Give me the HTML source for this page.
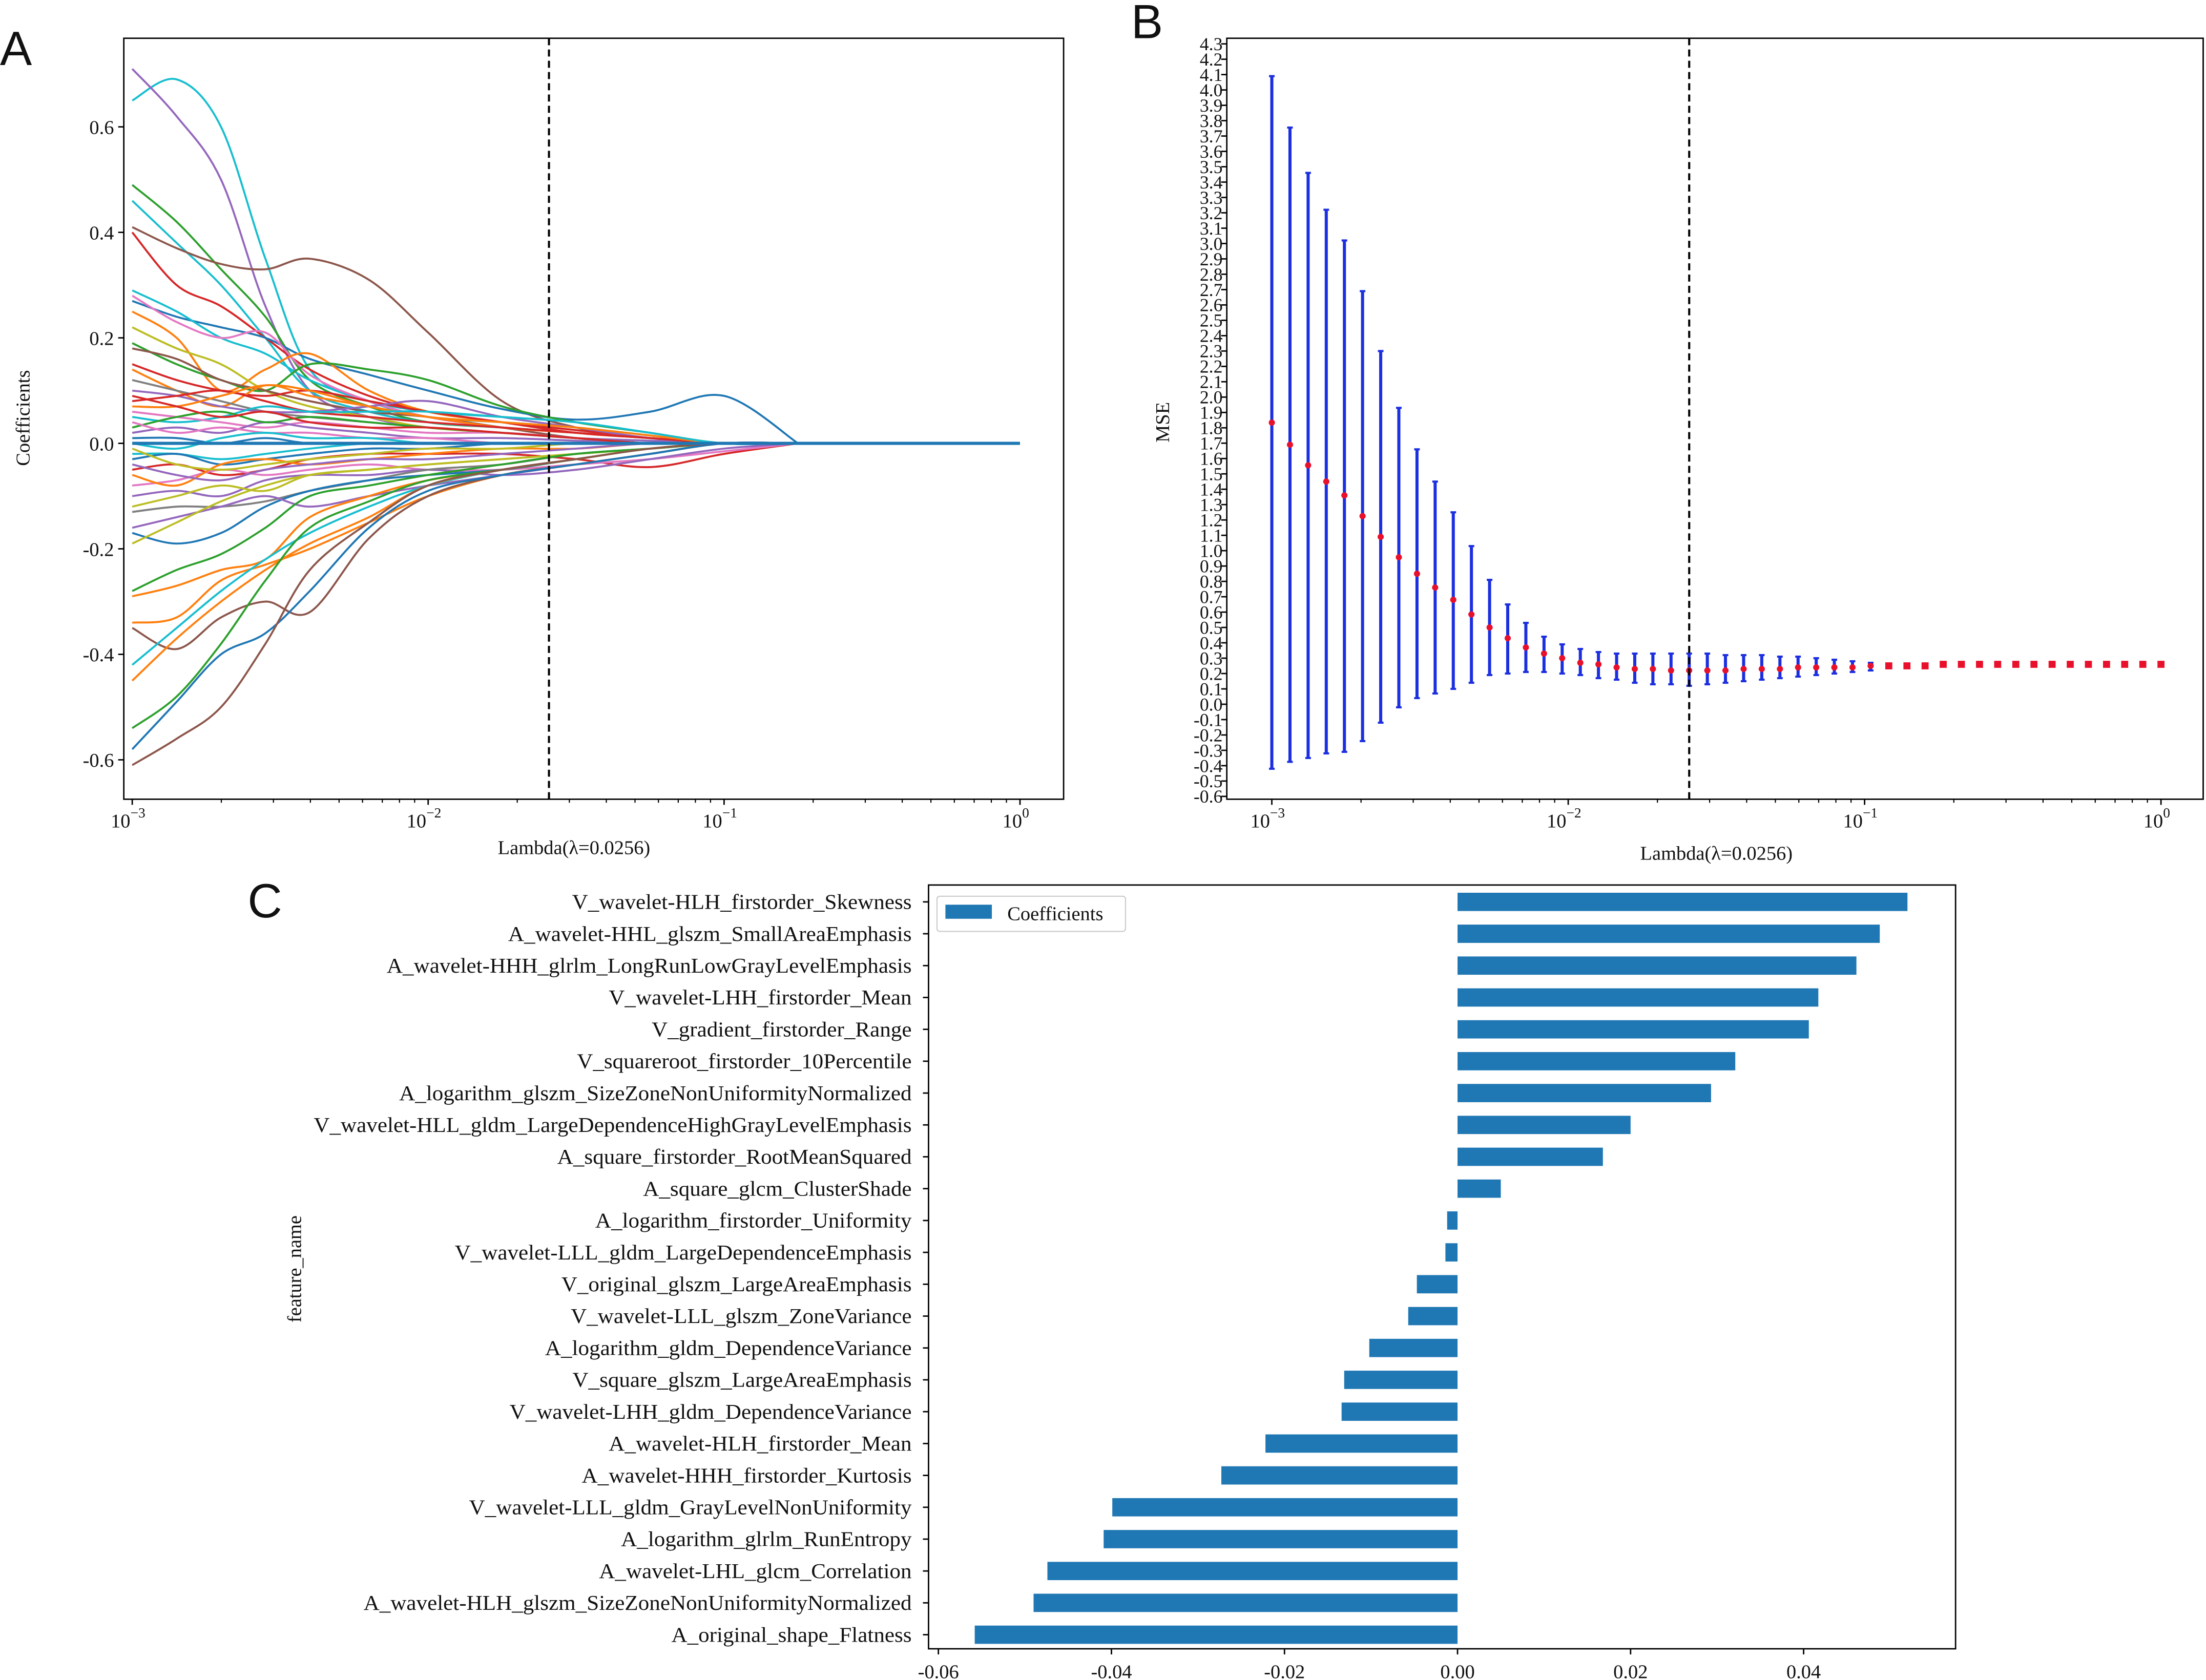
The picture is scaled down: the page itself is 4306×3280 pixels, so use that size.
<!DOCTYPE html>
<html><head><meta charset="utf-8"><style>
html,body{margin:0;padding:0;background:#fff}
svg{display:block}
text{font-family:"Liberation Serif",serif;fill:#111}
</style></head><body>
<svg id="fig" xmlns="http://www.w3.org/2000/svg" width="4306" height="3280" viewBox="0 0 1568 1194">
<rect width="1568" height="1194" fill="#fff"/>
<text x="0" y="46" style="font-family:'Liberation Sans',sans-serif;font-size:34px">A</text>
<text x="804" y="27" style="font-family:'Liberation Sans',sans-serif;font-size:34px">B</text>
<text x="176" y="652" style="font-family:'Liberation Sans',sans-serif;font-size:34px">C</text>
<g id="pa"></g>
<g id="pb"></g>
<g id="pc"></g>
</svg>
<script>
// ---------- Panel A data ----------
const aLogLambda=[-3,-2.85,-2.7,-2.55,-2.4,-2.2,-2,-1.75,-1.5,-1.25,-1,-0.75,0];
const aColors=["#17becf","#9467bd","#2ca02c","#17becf","#8c564b","#d62728","#1f77b4","#17becf","#e377c2","#ff7f0e","#bcbd22","#2ca02c","#8c564b","#d62728","#ff7f0e","#7f7f7f","#9467bd","#d62728","#ff7f0e","#17becf","#e377c2","#9467bd","#1f77b4","#17becf","#1f77b4","#d62728","#e377c2","#9467bd","#bcbd22","#7f7f7f","#1f77b4","#9467bd","#bcbd22","#2ca02c","#ff7f0e","#ff7f0e","#8c564b","#17becf","#ff7f0e","#2ca02c","#1f77b4","#8c564b","#2ca02c","#ff7f0e","#d62728","#e377c2","#bcbd22","#17becf","#9467bd","#1f77b4"];
const aSeries=[
[0.65,0.69,0.60,0.35,0.14,0.08,0.05,0.04,0.03,0.015,0,0,0],
[0.71,0.62,0.50,0.26,0.10,0.05,0.03,0.02,0.01,0.005,0,0,0],
[0.49,0.42,0.33,0.24,0.12,0.07,0.04,0.03,0.02,0.01,0,0,0],
[0.46,0.38,0.30,0.20,0.10,0.06,0.04,0.03,0.02,0.01,0,0,0],
[0.41,0.37,0.34,0.33,0.35,0.31,0.21,0.08,0.03,0.01,0,0,0],
[0.40,0.30,0.26,0.20,0.14,0.09,0.06,0.04,0.025,0.01,0,0,0],
[0.27,0.24,0.22,0.20,0.16,0.13,0.10,0.065,0.045,0.06,0.09,0,0],
[0.29,0.25,0.20,0.17,0.12,0.08,0.06,0.05,0.04,0.02,0,0,0],
[0.28,0.23,0.20,0.21,0.13,0.08,0.05,0.03,0.02,0.01,0,0,0],
[0.25,0.20,0.10,0.14,0.17,0.10,0.06,0.04,0.02,0.01,0,0,0],
[0.22,0.18,0.15,0.10,0.07,0.05,0.03,0.02,0.01,0,0,0,0],
[0.19,0.15,0.12,0.10,0.15,0.14,0.12,0.07,0.04,0.02,0,0,0],
[0.18,0.16,0.12,0.10,0.08,0.06,0.05,0.03,0.01,0,0,0,0],
[0.15,0.12,0.10,0.09,0.10,0.08,0.06,0.04,0.02,0.01,0,0,0],
[0.14,0.10,0.07,0.11,0.09,0.07,0.05,0.03,0.02,0.01,0,0,0],
[0.12,0.10,0.08,0.06,0.05,0.04,0.03,0.02,0.01,0,0,0,0],
[0.10,0.09,0.07,0.06,0.06,0.07,0.08,0.05,0.03,0.01,0,0,0],
[0.08,0.09,0.10,0.08,0.06,0.05,0.04,0.03,0.02,0.01,0,0,0],
[0.07,0.07,0.09,0.11,0.10,0.07,0.05,0.04,0.03,0.015,0,0,0],
[0.05,0.04,0.05,0.07,0.06,0.06,0.06,0.05,0.04,0.02,0,0,0],
[0.06,0.05,0.04,0.03,0.04,0.03,0.02,0.02,0.01,0,0,0,0],
[0.02,0.03,0.02,0.04,0.03,0.02,0.01,0.01,0.005,0,0,0,0],
[0.01,0.01,0.0,0.01,0.0,0.0,0.0,0,0,0,0,0,0],
[-0.02,-0.02,-0.03,-0.02,-0.01,0,0,0,0,0,0,0,0],
[-0.03,-0.02,-0.04,-0.03,-0.02,-0.01,-0.01,0,0,0,0,0,0],
[-0.05,-0.04,-0.06,-0.05,-0.03,-0.02,-0.02,-0.02,-0.03,-0.045,-0.02,0,0],
[-0.08,-0.07,-0.05,-0.06,-0.05,-0.04,-0.05,-0.05,-0.04,-0.03,-0.015,0,0],
[-0.10,-0.09,-0.10,-0.07,-0.06,-0.06,-0.05,-0.06,-0.05,-0.03,-0.01,0,0],
[-0.12,-0.10,-0.08,-0.09,-0.06,-0.05,-0.04,-0.03,-0.02,-0.01,0,0,0],
[-0.13,-0.12,-0.12,-0.11,-0.09,-0.07,-0.05,-0.04,-0.02,-0.01,0,0,0],
[-0.17,-0.19,-0.17,-0.12,-0.09,-0.07,-0.06,-0.05,-0.03,-0.01,0,0,0],
[-0.16,-0.14,-0.12,-0.10,-0.12,-0.10,-0.08,-0.06,-0.04,-0.02,0,0,0],
[-0.19,-0.15,-0.11,-0.08,-0.06,-0.05,-0.04,-0.03,-0.02,-0.01,0,0,0],
[-0.28,-0.24,-0.21,-0.16,-0.10,-0.08,-0.06,-0.04,-0.02,-0.01,0,0,0],
[-0.29,-0.27,-0.24,-0.22,-0.14,-0.10,-0.07,-0.05,-0.03,-0.01,0,0,0],
[-0.34,-0.33,-0.26,-0.23,-0.20,-0.15,-0.10,-0.06,-0.04,-0.02,0,0,0],
[-0.35,-0.39,-0.33,-0.30,-0.32,-0.18,-0.10,-0.06,-0.04,-0.02,0,0,0],
[-0.42,-0.35,-0.28,-0.22,-0.17,-0.12,-0.08,-0.05,-0.03,-0.01,0,0,0],
[-0.45,-0.37,-0.30,-0.24,-0.19,-0.14,-0.08,-0.05,-0.03,-0.01,0,0,0],
[-0.54,-0.48,-0.38,-0.26,-0.16,-0.11,-0.07,-0.05,-0.03,-0.01,0,0,0],
[-0.58,-0.49,-0.40,-0.36,-0.28,-0.16,-0.09,-0.06,-0.04,-0.02,0,0,0],
[-0.61,-0.56,-0.50,-0.38,-0.24,-0.15,-0.08,-0.05,-0.03,-0.01,0,0,0],
[0.03,0.05,0.06,0.04,0.05,0.04,0.03,0.02,0.01,0,0,0,0],
[-0.06,-0.08,-0.04,-0.03,-0.04,-0.03,-0.02,-0.01,-0.01,0,0,0,0],
[0.09,0.07,0.05,0.06,0.04,0.03,0.03,0.02,0.01,0,0,0,0],
[0.04,0.02,0.03,0.02,0.02,0.01,0.01,0,0,0,0,0,0],
[-0.01,-0.04,-0.05,-0.04,-0.03,-0.02,-0.01,-0.01,0,0,0,0,0],
[0.0,-0.01,0.01,0.02,0.01,0.01,0,0,0,0,0,0,0],
[-0.04,-0.06,-0.07,-0.05,-0.04,-0.03,-0.03,-0.02,-0.01,0,0,0,0],
[0,0,0,0,0,0,0,0,0,0,0,0,0]
];
const aYTicks=[0.6,0.4,0.2,0.0,-0.2,-0.4,-0.6];
const aYTickLabels=["0.6","0.4","0.2","0.0","-0.2","-0.4","-0.6"];
const lambdaOpt=0.0256;

// ---------- Panel B data ----------
const bMean=[1.834,1.69,1.556,1.45,1.36,1.225,1.09,0.957,0.85,0.76,0.68,0.585,0.50,0.43,0.37,0.33,0.30,0.27,0.26,0.24,0.23,0.23,0.22,0.22,0.22,0.22,0.23,0.23,0.23,0.24,0.24,0.24,0.24,0.25,0.25,0.25,0.25,0.26,0.26,0.26,0.26,0.26,0.26,0.26,0.26,0.26,0.26,0.26,0.26,0.26];
const bUpper=[4.09,3.755,3.46,3.22,3.02,2.69,2.30,1.93,1.66,1.45,1.25,1.03,0.81,0.65,0.53,0.44,0.39,0.36,0.34,0.33,0.33,0.33,0.33,0.33,0.33,0.32,0.32,0.32,0.31,0.31,0.30,0.29,0.28,0.27];
const bLower=[-0.42,-0.375,-0.35,-0.32,-0.31,-0.24,-0.12,-0.02,0.04,0.07,0.10,0.14,0.19,0.20,0.21,0.21,0.20,0.19,0.17,0.16,0.14,0.13,0.13,0.12,0.13,0.14,0.15,0.16,0.17,0.18,0.19,0.20,0.21,0.22];

// ---------- Panel C data ----------
const cFeatures=["V_wavelet-HLH_firstorder_Skewness","A_wavelet-HHL_glszm_SmallAreaEmphasis","A_wavelet-HHH_glrlm_LongRunLowGrayLevelEmphasis","V_wavelet-LHH_firstorder_Mean","V_gradient_firstorder_Range","V_squareroot_firstorder_10Percentile","A_logarithm_glszm_SizeZoneNonUniformityNormalized","V_wavelet-HLL_gldm_LargeDependenceHighGrayLevelEmphasis","A_square_firstorder_RootMeanSquared","A_square_glcm_ClusterShade","A_logarithm_firstorder_Uniformity","V_wavelet-LLL_gldm_LargeDependenceEmphasis","V_original_glszm_LargeAreaEmphasis","V_wavelet-LLL_glszm_ZoneVariance","A_logarithm_gldm_DependenceVariance","V_square_glszm_LargeAreaEmphasis","V_wavelet-LHH_gldm_DependenceVariance","A_wavelet-HLH_firstorder_Mean","A_wavelet-HHH_firstorder_Kurtosis","V_wavelet-LLL_gldm_GrayLevelNonUniformity","A_logarithm_glrlm_RunEntropy","A_wavelet-LHL_glcm_Correlation","A_wavelet-HLH_glszm_SizeZoneNonUniformityNormalized","A_original_shape_Flatness"];
const cValues=[0.052,0.0488,0.0461,0.0417,0.0406,0.0321,0.0293,0.0200,0.0168,0.0050,-0.0012,-0.0014,-0.0047,-0.0057,-0.0102,-0.0131,-0.0134,-0.0222,-0.0273,-0.0399,-0.0409,-0.0474,-0.0490,-0.0558];
const cXTicks=[-0.06,-0.04,-0.02,0.00,0.02,0.04];
const cXTickLabels=["-0.06","-0.04","-0.02","0.00","0.02","0.04"];

const NS="http://www.w3.org/2000/svg";
function mk(parent,tag,attrs,txt){const e=document.createElementNS(NS,tag);for(const k in attrs)e.setAttribute(k,attrs[k]);if(txt!==undefined)e.textContent=txt;parent.appendChild(e);return e;}
function smooth(pts){let d="M"+pts[0][0].toFixed(2)+","+pts[0][1].toFixed(2);for(let i=0;i<pts.length-1;i++){const p0=pts[i-1]||pts[i],p1=pts[i],p2=pts[i+1],p3=pts[i+2]||p2;const c1=[p1[0]+(p2[0]-p0[0])/6,p1[1]+(p2[1]-p0[1])/6],c2=[p2[0]-(p3[0]-p1[0])/6,p2[1]-(p3[1]-p1[1])/6];d+="C"+c1[0].toFixed(2)+","+c1[1].toFixed(2)+" "+c2[0].toFixed(2)+","+c2[1].toFixed(2)+" "+p2[0].toFixed(2)+","+p2[1].toFixed(2);}return d;}
function logAxis(g,x,yb){
  for(let dec=-3;dec<=0;dec++){
    const t=mk(g,"line",{x1:x(dec),x2:x(dec),y1:yb,y2:yb+4,stroke:"#000","stroke-width":1});
    
    
    const lab=mk(g,"text",{x:x(dec)-3,y:yb+20,"font-size":14,"text-anchor":"middle"});
    
    
    mk(lab,"tspan",{},"10");
    mk(lab,"tspan",{dy:-7,"font-size":10},String(dec===0?0:"\u2212"+(-dec)));
    if(dec<0){for(let m=2;m<=9;m++){const xx=x(dec+Math.log10(m));const mt=mk(g,"line",{x1:xx,x2:xx,y1:yb,y2:yb+2.5,stroke:"#000","stroke-width":0.8});
      
      }}
  }
}
// ---------- Panel A ----------
(function(){
  const g=document.getElementById('pa');
  const L=88,R=756,T=27,B=568;
  const x=v=>94+(v+3)*(725-94)/3;
  const y=v=>315-v*375;
  aSeries.forEach((s,i)=>{
    const pts=s.map((v,j)=>[x(aLogLambda[j]),y(v)]);
    const last=pts.pop();
    const d=smooth(pts)+"L"+last[0].toFixed(2)+","+last[1].toFixed(2);
    const p=mk(g,"path",{d:d,fill:"none",stroke:aColors[i%aColors.length],"stroke-width":i===aSeries.length-1?2.2:1.4});
    
    
  });
  const dl=mk(g,"line",{x1:x(Math.log10(lambdaOpt)),x2:x(Math.log10(lambdaOpt)),y1:T,y2:B,stroke:"#000","stroke-width":1.5,"stroke-dasharray":"5,3"});
  
  
  const fr=mk(g,"rect",{x:L,y:T,width:R-L,height:B-T,fill:"none",stroke:"#000","stroke-width":1});
  
  
  aYTicks.forEach((v,i)=>{
    const t=mk(g,"line",{x1:L-4,x2:L,y1:y(v),y2:y(v),stroke:"#000"});
    
    
    const lab=mk(g,"text",{x:L-7,y:y(v)+5,"font-size":14,"text-anchor":"end"},aYTickLabels[i]);
    
    
  });
  logAxis(g,x,B);
  const xl=mk(g,"text",{x:408,y:607,"font-size":14,"text-anchor":"middle"},"Lambda(\u03bb=0.0256)");
  
  
  const yl=mk(g,"text",{x:0,y:0,"font-size":14,"text-anchor":"middle",transform:"translate(21,297) rotate(-90)"},"Coefficients");
  
  
})();
// ---------- Panel B ----------
(function(){
  const g=document.getElementById('pb');
  const L=872,R=1566,T=27,B=568;
  const x=v=>904+(v+3)*(1536-904)/3;
  const y=v=>31+(4.3-v)*(535/4.9);
  const n=bMean.length;
  const lam=i=>-3+3*i/(n-1);
  for(let i=0;i<bUpper.length;i++){
    const xx=x(lam(i));
    const e=mk(g,"line",{x1:xx,x2:xx,y1:y(bUpper[i]),y2:y(bLower[i]),stroke:"#1c2fe0","stroke-width":2.2});
    
    
    [bUpper[i],bLower[i]].forEach(v=>{const c=mk(g,"line",{x1:xx-2,x2:xx+2,y1:y(v),y2:y(v),stroke:"#1c2fe0","stroke-width":1.5});
      
      });
  }
  for(let i=0;i<n;i++){
    const xx=x(lam(i));
    let m;
    if(i<bUpper.length){m=mk(g,"circle",{cx:xx,cy:y(bMean[i]),r:2.2,fill:"#e8102a"});}
    else{m=mk(g,"rect",{x:xx-2.5,y:y(bMean[i])-2.5,width:5,height:5,fill:"#e8102a"});}
    
    
  }
  const dl=mk(g,"line",{x1:x(Math.log10(lambdaOpt)),x2:x(Math.log10(lambdaOpt)),y1:T,y2:B,stroke:"#000","stroke-width":1.5,"stroke-dasharray":"5,3"});
  
  
  const fr=mk(g,"rect",{x:L,y:T,width:R-L,height:B-T,fill:"none",stroke:"#000","stroke-width":1});
  
  
  for(let k=-6;k<=43;k++){
    const v=k/10;
    const t=mk(g,"line",{x1:L-4,x2:L,y1:y(v),y2:y(v),stroke:"#000"});
    
    
    const lab=mk(g,"text",{x:L-3,y:y(v)+4.5,"font-size":13,"text-anchor":"end"},v.toFixed(1));
    
    
  }
  logAxis(g,x,B);
  const xl=mk(g,"text",{x:1220,y:611,"font-size":14,"text-anchor":"middle"},"Lambda(\u03bb=0.0256)");
  
  
  const yl=mk(g,"text",{x:0,y:0,"font-size":14,"text-anchor":"middle",transform:"translate(831,300) rotate(-90)"},"MSE");
  
  
})();
// ---------- Panel C ----------
(function(){
  const g=document.getElementById('pc');
  const L=660,R=1390,T=629,B=1172;
  const x=v=>1036+v*(1159-1036)/0.02;
  const yc=i=>641+i*(1162-641)/(cFeatures.length-1);
  const bh=13;
  cValues.forEach((v,i)=>{
    const x0=Math.min(x(0),x(v)),w=Math.abs(x(v)-x(0));
    const r=mk(g,"rect",{x:x0,y:yc(i)-bh/2,width:w,height:bh,fill:"#1f77b4"});
    
    
  });
  const fr=mk(g,"rect",{x:L,y:T,width:R-L,height:B-T,fill:"none",stroke:"#000","stroke-width":1});
  
  
  const labs=[];
  cFeatures.forEach((f,i)=>{
    const t=mk(g,"line",{x1:L-4,x2:L,y1:yc(i),y2:yc(i),stroke:"#000"});
    
    
    const lab=mk(g,"text",{x:648,y:yc(i)+5,"font-size":15,"text-anchor":"end"},f);
    
    
    labs.push(lab);
  });
  let maxL=0;labs.forEach(l=>{maxL=Math.max(maxL,l.getComputedTextLength());});
  const k=maxL>0?425/maxL:1;
  labs.forEach(l=>{const w=l.getComputedTextLength()*k;l.setAttribute('textLength',w.toFixed(1));l.setAttribute('lengthAdjust','spacingAndGlyphs');});
  cXTicks.forEach((v,i)=>{
    const t=mk(g,"line",{x1:x(v),x2:x(v),y1:B,y2:B+4,stroke:"#000"});
    
    
    const lab=mk(g,"text",{x:x(v),y:B+21,"font-size":14,"text-anchor":"middle"},cXTickLabels[i]);
    
    
  });
  const yl=mk(g,"text",{x:0,y:0,"font-size":14,"text-anchor":"middle",transform:"translate(214,902) rotate(-90)"},"feature_name");
  
  
  const lg=mk(g,"g",{});
  
  
  mk(lg,"rect",{x:666,y:637,width:134,height:25,fill:"#fff",stroke:"#ccc","stroke-width":0.8,rx:2});
  const sw=mk(lg,"rect",{x:672,y:643,width:33,height:10,fill:"#1f77b4"});
  
  
  const lt=mk(lg,"text",{x:716,y:654,"font-size":14},"Coefficients");
  
  
})();
</script>
</body></html>
